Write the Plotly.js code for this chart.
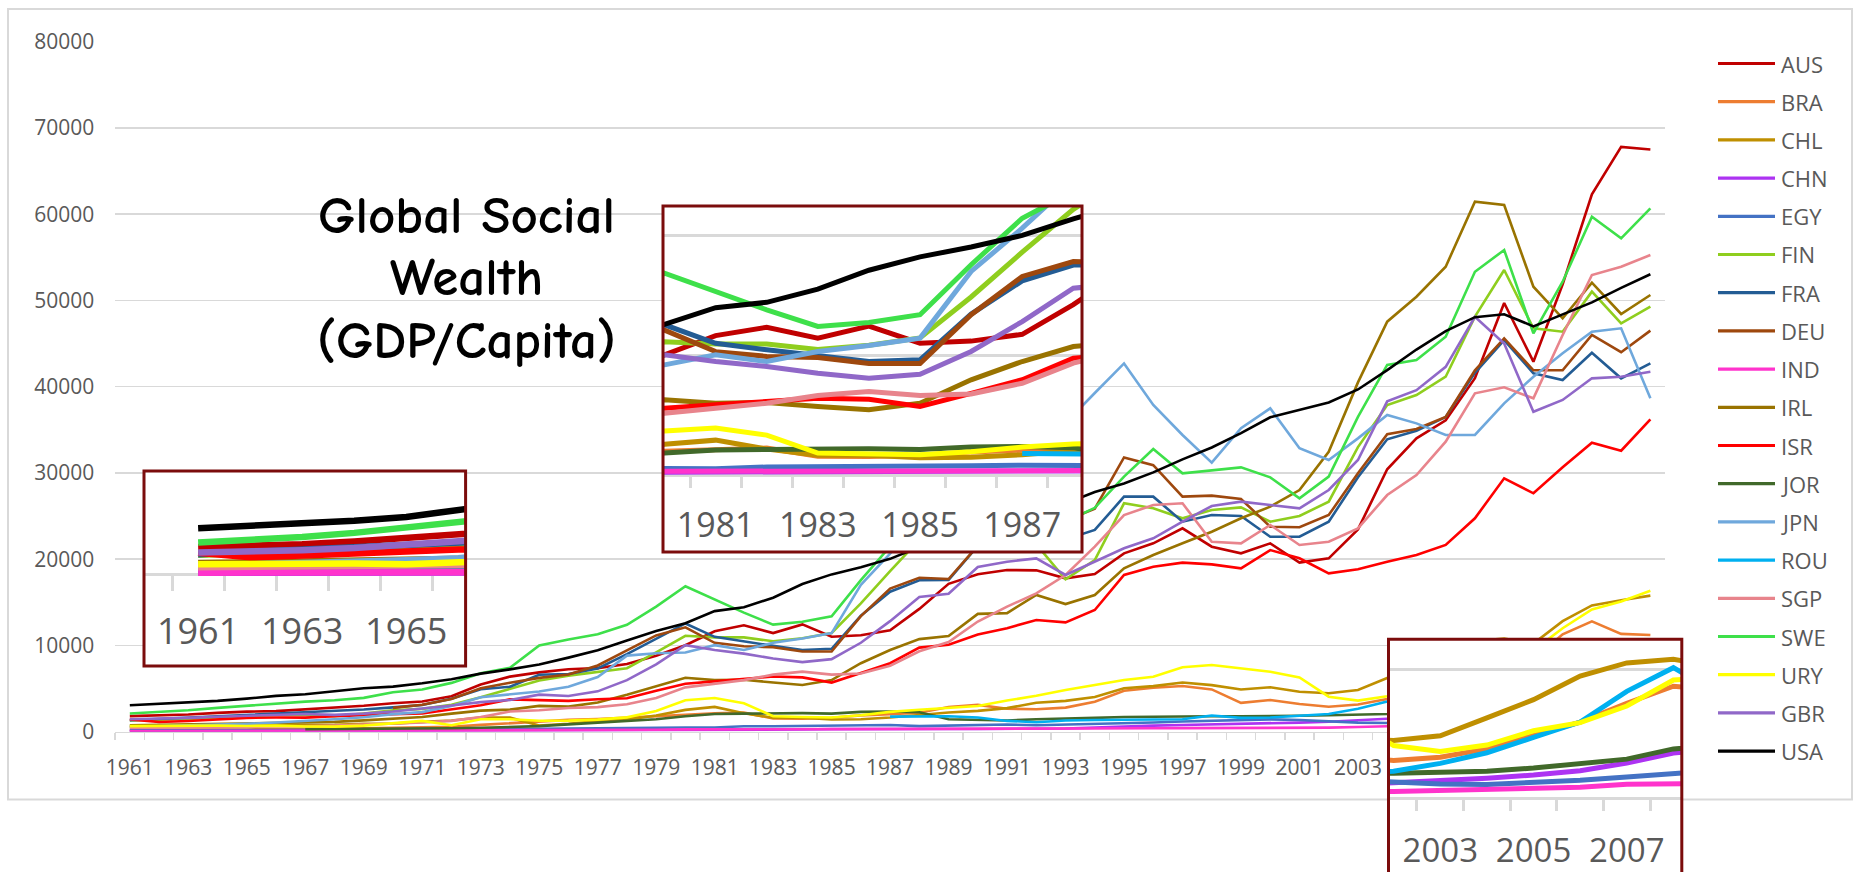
<!DOCTYPE html>
<html><head><meta charset="utf-8">
<script src="https://cdn.plot.ly/plotly-3.0.1.min.js"></script>
<style>html,body{margin:0;padding:0;background:#fff;}#chart{width:1860px;height:872px;}</style>
</head><body><div id="chart"></div>
<script>
// ---------------- DATA (GDP per capita, current US$) ----------------
const years = [1961,1962,1963,1964,1965,1966,1967,1968,1969,1970,1971,1972,1973,1974,1975,1976,1977,1978,1979,1980,1981,1982,1983,1984,1985,1986,1987,1988,1989,1990,1991,1992,1993,1994,1995,1996,1997,1998,1999,2000,2001,2002,2003,2004,2005,2006,2007,2008,2009,2010,2011,2012,2013];
const countries = ['AUS','BRA','CHL','CHN','EGY','FIN','FRA','DEU','IND','IRL','ISR','JOR','JPN','ROU','SGP','SWE','URY','GBR','USA'];

const AUS = [1810,1880,2000,2180,2330,2390,2600,2750,3010,3300,3500,4120,5480,6390,6880,7240,7370,7840,8810,10020,11640,12340,11430,12440,11010,11180,11750,14240,17140,18260,18740,18710,17780,18280,20680,21840,23580,21450,20680,21840,19600,20100,23450,30430,34020,36100,40990,49700,42900,51870,62300,67800,67500];
const BRA = [210,250,280,260,260,320,340,360,390,450,500,580,790,1010,1160,1370,1470,1610,1740,1950,2120,2210,1530,1500,1620,1890,2040,2190,2870,3110,2670,2600,2790,3480,4750,5100,5300,4900,3350,3670,3210,2900,3150,3800,4850,5900,7370,8700,8390,11290,12790,11340,11210];
const CHL = [560,620,630,630,650,780,790,790,920,940,1140,1290,1650,1630,720,920,1230,1400,1870,2530,2880,2130,1620,1610,1410,1450,1650,1940,2230,2420,2730,3350,3570,4020,5030,5280,5700,5400,4900,5150,4640,4450,4830,6230,7650,9500,10520,10800,10210,12810,14640,15250,15780];
const CHN = [76,70,74,85,98,104,97,91,100,113,119,132,157,160,178,165,185,156,184,195,197,203,225,250,294,281,252,284,311,318,333,366,377,473,610,709,782,829,873,954,1053,1149,1289,1509,1753,2099,2695,3471,3838,4561,5634,6338,7077];
const EGY = [152,156,167,182,207,208,205,203,214,227,242,255,280,304,344,371,432,391,446,494,487,627,634,669,697,740,782,648,721,755,836,744,806,874,963,1062,1183,1252,1310,1430,1352,1210,1050,1016,1168,1351,1601,1984,2238,2587,2786,3179,3226];
const FIN = [1300,1370,1480,1640,1790,1930,1930,1800,2120,2470,2650,3120,4000,5000,5940,6500,6930,7360,9200,11120,10940,10940,10480,10840,11450,14880,18630,22230,24950,28360,25490,21710,17660,19900,26480,25900,24740,25700,26000,24350,25010,26670,33000,37880,39040,41160,48120,53530,46770,46380,51020,47350,49280];
const FRA = [1330,1490,1650,1810,1930,2060,2210,2380,2570,2820,3090,3810,4930,5220,6610,6690,7330,9000,10760,12550,11000,10450,9950,9470,9610,13450,16230,17560,17600,21540,21540,23550,22290,23390,27250,27250,24350,25120,25010,22610,22610,24350,29500,33900,34880,36480,41600,45410,41550,40780,43940,40970,42710];
const DEU = [null,null,null,null,null,null,null,null,null,2760,3130,3790,5030,5680,6240,6630,7680,9440,11160,12100,10300,9900,9800,9300,9300,13400,16600,17850,17700,21580,22300,25620,24480,25850,31800,30900,27250,27370,26980,23770,23700,25120,29960,34500,35100,36500,41900,45600,41900,41900,46000,44000,46500];
const IND = [85,90,101,116,119,90,96,99,107,112,118,122,143,163,158,161,186,205,224,267,271,274,291,277,296,310,340,354,346,368,303,316,301,346,374,400,415,413,441,443,452,471,546,627,715,807,1028,999,1102,1358,1461,1450,1455];
const IRL = [730,790,840,950,1010,1060,1130,1140,1310,1500,1700,2100,2440,2560,2990,2910,3380,4280,5250,6260,5980,6030,5700,5420,5980,7940,9470,10730,11090,13660,13750,15850,14800,15850,18940,20490,21840,23190,24740,26090,28020,32460,40500,47540,50430,53910,61450,61070,51590,47930,52060,48430,50630];
const ISR = [1430,1120,1240,1380,1600,1650,1630,1800,1960,2040,2110,2600,3060,3750,3640,3570,3760,3870,4750,5560,5840,6120,6400,6300,5700,6800,7940,9750,10090,11270,12000,12950,12680,14110,18170,19130,19600,19400,18940,21060,20100,18360,18830,19710,20490,21650,24740,29380,27640,30650,33510,32580,36220];
const JOR = [null,null,null,null,null,null,300,310,320,330,360,400,450,520,650,850,1050,1250,1450,1800,2050,2100,2150,2150,2100,2300,2350,2250,1450,1350,1300,1450,1500,1600,1700,1750,1780,1800,1800,1790,1850,1900,1950,2050,2300,2650,3000,3800,4030,4370,4660,4900,5210];
const JPN = [560,630,720,840,920,1060,1230,1450,1670,2040,2270,2970,4000,4350,4660,5200,6340,8820,9100,9190,10030,9470,10310,10810,11430,17020,20650,24590,24510,25140,28930,31470,35770,39270,42700,37880,34400,31190,35180,37490,32860,31500,34010,36720,35750,34400,34400,38070,41160,43870,46380,46770,38650];
const ROU = [null,null,null,null,null,null,null,null,null,null,null,null,null,null,null,null,null,null,null,null,null,null,null,null,null,null,1750,1750,1800,1650,1250,1100,1300,1350,1400,1400,1450,1870,1600,1650,1830,2050,2670,3500,4700,5900,8300,10150,8070,8140,9060,8440,9500];
const SGP = [450,470,510,490,520,570,630,710,810,930,1070,1260,1690,2340,2490,2750,2850,3190,3900,5140,5560,5980,6620,6960,6620,6750,7650,9330,10390,12770,14500,16040,18170,21450,25120,26280,26480,22030,21840,23970,21650,22030,23580,27440,29760,33620,39230,39930,38650,46000,52950,53910,55270];
const SWE = [2110,2290,2480,2760,3010,3230,3490,3650,3920,4570,4890,5660,6770,7400,10000,10700,11300,12400,14500,16870,15340,13800,12410,12740,13390,17580,21480,23740,25580,29790,31050,32050,24320,25960,29570,32780,29960,30340,30650,29490,27060,29570,36500,42520,43100,45800,53330,55850,46190,52170,59710,57200,60680];
const URY = [650,690,660,700,660,700,600,590,700,950,1250,750,1450,1450,1270,1280,1400,1660,2410,3650,3900,3300,1800,1700,1650,1900,2300,2550,2740,2980,3610,4160,4830,5410,5990,6380,7470,7730,7350,6960,6300,4060,3600,4100,5220,5850,7150,9190,9430,12000,14170,15090,16350];
const GBR = [1450,1510,1600,1740,1870,1990,2060,1950,2100,2350,2650,3030,3430,3670,4300,4140,4680,5980,7800,10030,9470,9050,8490,8070,8410,10310,12820,15620,16000,19100,19710,20100,18170,19710,21260,22420,24350,26170,26670,26280,25900,28020,31500,38300,39600,42300,48100,45000,37100,38460,40970,41160,41740];
const USA = [3070,3240,3370,3570,3830,4150,4340,4700,5030,5230,5610,6090,6730,7230,7800,8590,9450,10570,11670,12580,13980,14430,15540,17120,18240,19070,20040,21420,22860,23950,24400,25490,26460,27780,28780,30070,31570,32950,34620,36450,37270,38170,39680,41920,44310,46440,48060,48400,47000,48370,49780,51460,53040];

const mainTickYears = [1961,1963,1965,1967,1969,1971,1973,1975,1977,1979,1981,1983,1985,1987,1989,1991,1993,1995,1997,1999,2001,2003,2005,2007,2009,2011,2013];
const insetTickYears1 = [1961,1963,1965];
const insetTickYears2 = [1981,1983,1985,1987];
const insetTickYears3 = [2003,2005,2007];
const titleLines = ['Global Social','Wealth','(GDP/Capita)'];

// ---------------- STYLE / LAYOUT ----------------
const values = {AUS,BRA,CHL,CHN,EGY,FIN,FRA,DEU,IND,IRL,ISR,JOR,JPN,ROU,SGP,SWE,URY,GBR,USA};
const colors = {AUS:'#c00000',BRA:'#ed7d31',CHL:'#bf8f00',CHN:'#ad33f2',EGY:'#4472c4',FIN:'#8fce1e',FRA:'#235c94',DEU:'#9e480e',IND:'#ff33cc',IRL:'#997300',ISR:'#ff0000',JOR:'#41692a',JPN:'#6fa8dc',ROU:'#00b0f0',SGP:'#e8848c',SWE:'#3ee04a',URY:'#ffff00',GBR:'#9068c8',USA:'#000000'};

const W = 1860, H = 872;
const fx = x => x / W;
const fy = y => 1 - y / H;
const FONT = 'Open Sans, Liberation Sans, sans-serif';
const GRAY = '#595959', GRID = '#d9d9d9';

const main = {x0:115.2, x1:1665, y0:41.7, y1:731.7};

const insets = [
  {id:2, box:[144,471,465.6,666],   xr:[1959.96,1966.14], zeroY:574,   perK:14.9,  ticks:insetTickYears1, lw:6.5, font:36, standoff:25, ticklen:15, grid:[]},
  {id:3, box:[663,206,1082,552],    xr:[1979.97,1988.17], zeroY:474.5, perK:11.93, ticks:insetTickYears2, lw:5,   font:34, standoff:20, ticklen:11, grid:[10000,20000]},
  {id:4, box:[1388.5,639.3,1681.8,872], xr:[2001.89,2008.18], zeroY:797.5, perK:12.79, ticks:insetTickYears3, lw:5, font:33, standoff:23, ticklen:11, grid:[10000]}
];

const traces = [];
countries.forEach(c => {
  traces.push({x: years, y: values[c], type:'scatter', mode:'lines', name:c, showlegend:false,
    line:{color:colors[c], width:2.6}, xaxis:'x', yaxis:'y', hoverinfo:'skip'});
});
insets.forEach(ins => {
  countries.forEach(c => {
    traces.push({x: years, y: values[c], type:'scatter', mode:'lines', name:c, showlegend:false,
      line:{color:colors[c], width:ins.lw}, xaxis:'x'+ins.id, yaxis:'y'+ins.id, hoverinfo:'skip'});
  });
});

const layout = {
  width: W, height: H,
  margin: {l:0, r:0, t:0, b:0},
  paper_bgcolor:'#ffffff', plot_bgcolor:'#ffffff',
  showlegend: false,
  hovermode: false,
  xaxis: {
    domain:[fx(main.x0), fx(main.x1)], range:[1960.5, 2013.5], anchor:'y',
    tickmode:'array', tickvals: mainTickYears, ticktext: mainTickYears.map(String),
    ticks:'', tickangle:0, ticklabelstandoff:17,
    tickfont:{family:FONT, size:21, color:GRAY},
    minor:{tickmode:'linear', tick0:1960.5, dtick:1, ticks:'outside', ticklen:7, tickwidth:1.5, tickcolor:GRID, showgrid:false},
    showline:true, linecolor:GRID, linewidth:1.5, showgrid:false, zeroline:false, layer:'below traces'
  },
  yaxis: {
    domain:[fy(main.y1), fy(main.y0)], range:[0, 80000], anchor:'x',
    tickmode:'linear', tick0:0, dtick:10000, tickformat:'d', ticks:'', ticklabelstandoff:20,
    tickfont:{family:FONT, size:21, color:GRAY},
    showgrid:true, gridcolor:GRID, gridwidth:1.5, zeroline:false, showline:false, layer:'below traces'
  },
  shapes: [
    {type:'rect', xref:'paper', yref:'paper', x0:fx(8), x1:fx(1852), y0:fy(799.5), y1:fy(9), line:{color:GRID, width:2}, layer:'below'}
  ],
  annotations: []
};

// title lines
const titleY = [215, 278, 341];
titleLines.forEach((t, i) => {
  layout.annotations.push({text: t, xref:'paper', yref:'paper', x: fx(466), y: fy(titleY[i]), xanchor:'center', yanchor:'middle',
    showarrow:false, font:{family:'Comic Sans MS, Comic Neue, DejaVu Sans, sans-serif', size:53, weight:700, color:'#000000'}});
});

// legend (drawn from the country list and colour map)
const legTop = 63.5, legStep = 38.2;
countries.forEach((c, i) => {
  const yy = legTop + i * legStep;
  layout.shapes.push({type:'line', xref:'paper', yref:'paper', x0:fx(1718), x1:fx(1775), y0:fy(yy), y1:fy(yy),
    line:{color:colors[c], width:3.2}, layer:'above'});
  layout.annotations.push({text:c, xref:'paper', yref:'paper', x:fx(1779), y:fy(yy), xanchor:'left', yanchor:'middle',
    showarrow:false, font:{family:FONT, size:22, color:GRAY}});
});

insets.forEach(ins => {
  const [bx0, by0, bx1, by1] = ins.box;
  const yr = [-(by1 - ins.zeroY) / ins.perK * 1000, (ins.zeroY - by0) / ins.perK * 1000];
  layout['xaxis'+ins.id] = {
    domain:[fx(bx0), fx(bx1)], range: ins.xr, anchor:'free', position: fy(ins.zeroY),
    tickmode:'array', tickvals: ins.ticks, ticktext: ins.ticks.map(String),
    ticks:'', tickangle:0, ticklabelstandoff: ins.standoff,
    tickfont:{family:FONT, size:ins.font, color:GRAY},
    minor:{tickmode:'linear', tick0:1960.5, dtick:1, ticks:'outside', ticklen:ins.ticklen, tickwidth:3, tickcolor:GRID, showgrid:false},
    showline:true, linecolor:GRID, linewidth:3, showgrid:false, zeroline:false, layer:'below traces'
  };
  layout['yaxis'+ins.id] = {
    domain:[Math.max(0, fy(by1)), fy(by0)], range: yr, anchor:'x'+ins.id,
    tickmode:'array', tickvals: ins.grid, showticklabels:false, ticks:'',
    showgrid: ins.grid.length > 0, gridcolor:GRID, gridwidth:3, zeroline:false, showline:false
  };
  layout.shapes.push({type:'rect', xref:'paper', yref:'paper', x0:fx(bx0), x1:fx(bx1),
    y0: fy(by1 >= H ? H + 10 : by1), y1: fy(by0), line:{color:'#7b0c0c', width:3}, layer:'above'});
});

Plotly.newPlot('chart', traces, layout, {staticPlot:true, displayModeBar:false});
</script>
</body></html>
